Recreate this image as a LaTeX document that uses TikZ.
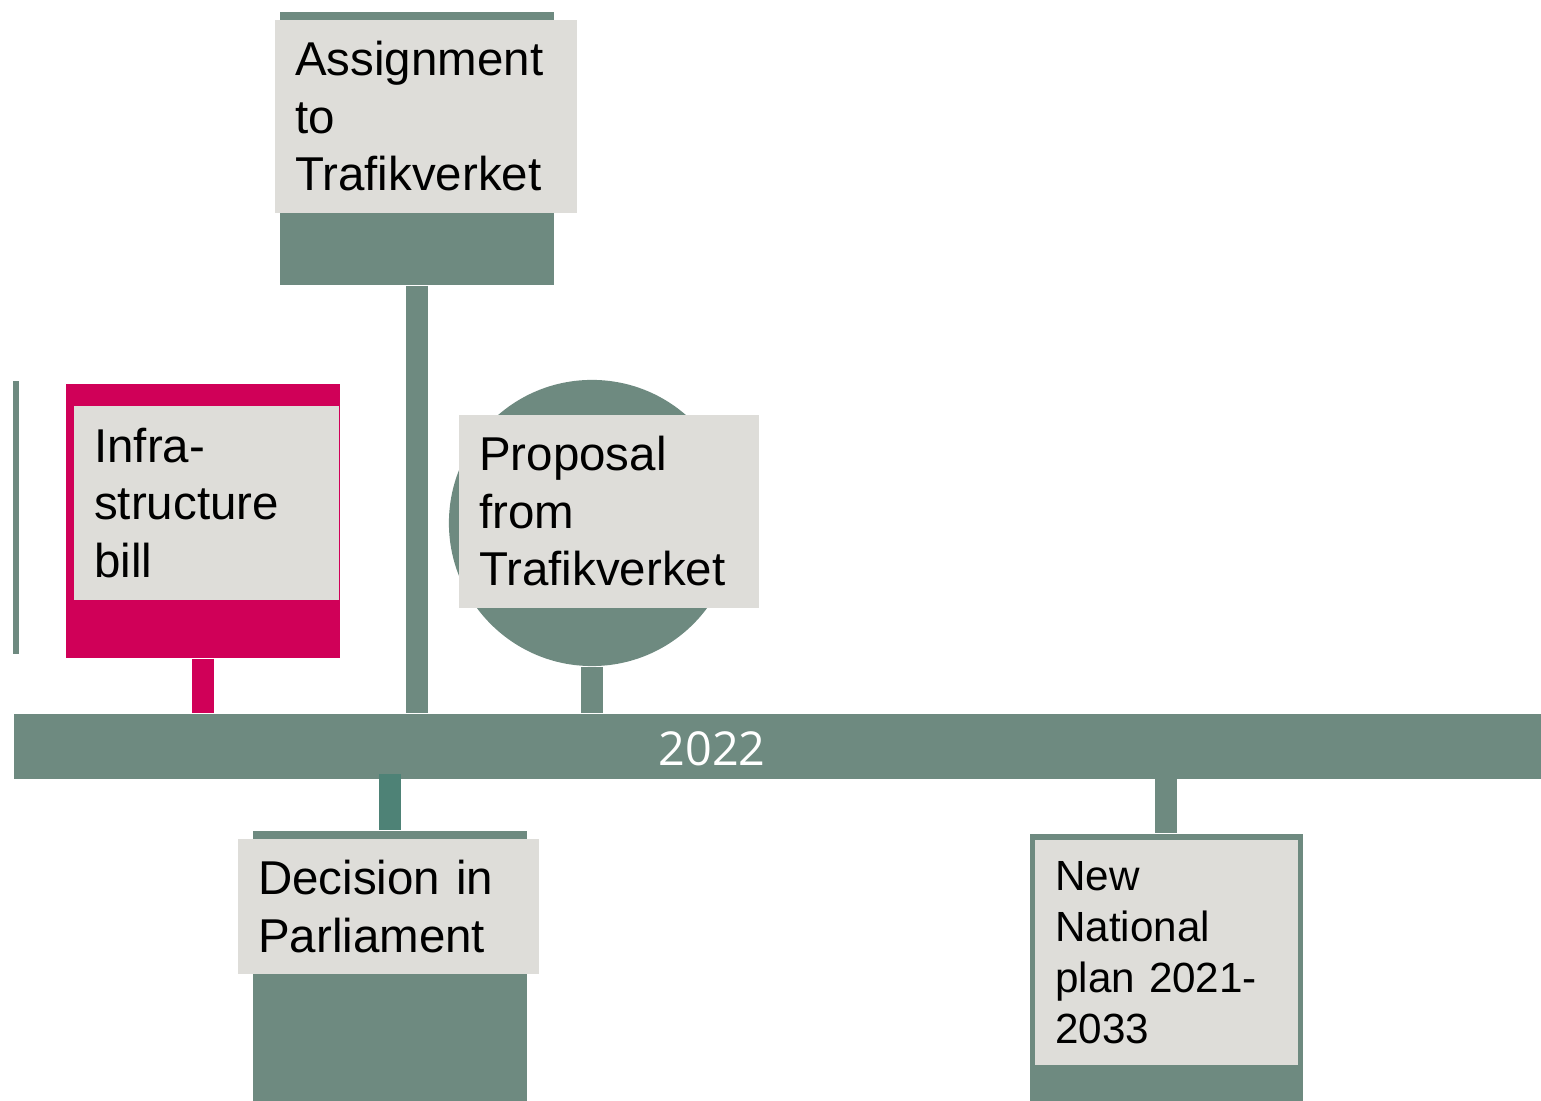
\documentclass[tikz,border=0pt]{standalone}
\usepackage{fontspec}
\setmainfont{Liberation Sans}
\newfontfamily\yearfont{Open Sans}
\usetikzlibrary{positioning}
\definecolor{tlgreen}{RGB}{110,138,128}
\definecolor{tlteal}{RGB}{78,130,118}
\definecolor{tlmagenta}{RGB}{208,0,88}
\definecolor{tlgray}{RGB}{222,221,217}
\tikzset{
  post/.style={fill=tlgreen, inner sep=0pt, anchor=north west},
  labelbox/.style={fill=tlgray, anchor=north west, align=left, inner ysep=0pt, inner xsep=0.205cm, font=\fontsize{13.5}{16.4}\selectfont},
  stem/.style={line width=0.22cm, tlgreen},
}
\begin{document}
\begin{tikzpicture}[x=0.01cm, y=-0.01cm]
\useasboundingbox (0,0) rectangle (1541,1101);
\fill[tlgreen] (13,381) rectangle (19,654);
\node[post, fill=tlmagenta, minimum width=2.74cm, minimum height=2.74cm] (infra) at (65,383) {};
\node[post, minimum width=2.74cm, minimum height=2.73cm] (assign) at (279,11) {};
\node[circle, fill=tlgreen, inner sep=0pt, minimum size=2.86cm] (proposal) at (592,523) {};
\node[post, minimum width=2.74cm, minimum height=2.71cm] (decision) at (252,830) {};
\node[post, minimum width=2.73cm, minimum height=2.68cm] (natplan) at (1029,833) {};
\node[post, minimum width=15.28cm, minimum height=0.65cm] (bar) at (13,713) {};
\node[text=white, font=\yearfont\fontsize{13.3}{16}\selectfont] (year) at (712,749) {2022};
\draw[stem, tlmagenta] (infra.south) -- (infra.south |- bar.north);
\draw[stem] (assign.south) -- (assign.south |- bar.north);
\draw[stem] (proposal.south) -- (proposal.south |- bar.north);
\draw[stem, tlteal] (decision.north) -- ([yshift=0.05cm]decision.north |- bar.south);
\draw[stem] (natplan.north) -- (natplan.north |- bar.south);
\node[labelbox, text width=2.24cm, minimum height=1.94cm] (infratext) at (73,405) {Infra-\\structure\\bill};
\node[labelbox, text width=2.61cm, minimum height=1.93cm] (assigntext) at (274,19) {Assignment\\to\\Trafikverket};
\node[labelbox, text width=2.59cm, minimum height=1.93cm] (proposaltext) at (458,414) {Proposal\\from\\Trafikverket};
\node[labelbox, text width=2.60cm, minimum height=1.35cm] (decisiontext) at (237,838) {Decision in\\Parliament};
\node[labelbox, text width=2.22cm, minimum height=2.25cm, font=\fontsize{12}{14.5}\selectfont] (natplantext) at (1034,839) {New\\National\\plan 2021-\\2033};
\end{tikzpicture}
\end{document}
